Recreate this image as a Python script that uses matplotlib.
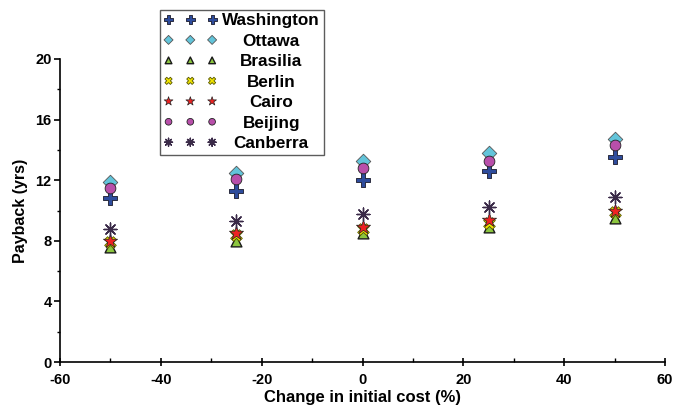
import matplotlib
matplotlib.use("Agg")
import matplotlib.pyplot as plt
from matplotlib.ticker import MultipleLocator

plt.rcParams['font.family'] = ['Liberation Sans', 'DejaVu Sans']
plt.rcParams['font.weight'] = 'bold'
plt.rcParams['axes.unicode_minus'] = False

# Change in initial cost (%)
cost_change = [-50, -25, 0, 25, 50]

# Payback period (years) per city
washington = [10.8, 11.3, 12.0, 12.6, 13.5]
ottawa = [11.9, 12.5, 13.3, 13.8, 14.7]
brasilia = [7.6, 8.0, 8.5, 8.9, 9.5]
berlin = [7.9, 8.4, 8.8, 9.2, 9.9]
cairo = [8.0, 8.5, 8.9, 9.35, 10.0]
beijing = [11.5, 12.05, 12.8, 13.3, 14.3]
canberra = [8.8, 9.3, 9.8, 10.2, 10.9]

series = [
    ("Washington", washington, dict(marker='P', s=105, facecolor='#2E4C9C', edgecolor='#1a1a2a', lw=0.6)),
    ("Ottawa", ottawa, dict(marker='D', s=55, facecolor='#62C4DA', edgecolor='#555555', lw=0.6)),
    ("Brasilia", brasilia, dict(marker='^', s=60, facecolor='#8CC63F', edgecolor='#1a1a1a', lw=1.0)),
    ("Berlin", berlin, dict(marker='X', s=70, facecolor='#F0E400', edgecolor='#555500', lw=0.6)),
    ("Cairo", cairo, dict(marker='*', s=115, facecolor='#EE2222', edgecolor='#222222', lw=0.5)),
    ("Beijing", beijing, dict(marker='o', s=60, facecolor='#B84FAA', edgecolor='#222222', lw=0.6)),
    ("Canberra", canberra, dict(marker=(8, 2, 0), s=85, facecolor='#3A2A48', edgecolor='#3A2A48', lw=1.0)),
]

fig = plt.figure(figsize=(6.76, 4.07), dpi=100)
ax = fig.add_axes([60 / 676, 45 / 407, 605 / 676, 303 / 407])

handles = []
for i, (name, vals, st) in enumerate(series):
    h = ax.scatter(cost_change, vals, marker=st['marker'], s=st['s'],
                   facecolor=st['facecolor'], edgecolor=st['edgecolor'],
                   linewidths=st['lw'], label=name, zorder=3 + i)
    handles.append(h)

ax.set_xlim(-60, 60)
ax.set_ylim(0, 20)
ax.xaxis.set_major_locator(MultipleLocator(20))
ax.xaxis.set_minor_locator(MultipleLocator(10))
ax.yaxis.set_major_locator(MultipleLocator(4))
ax.yaxis.set_minor_locator(MultipleLocator(2))

for side in ('top', 'right'):
    ax.spines[side].set_visible(False)
for side in ('left', 'bottom'):
    ax.spines[side].set_linewidth(1.2)

ax.tick_params(axis='x', which='major', direction='inout', length=6, width=1.2,
               labelsize=10.5, pad=5)
ax.tick_params(axis='x', which='minor', direction='in', length=3, width=1.0)
ax.tick_params(axis='y', which='major', direction='out', length=4, width=1.2,
               labelsize=10.5, pad=2)
ax.tick_params(axis='y', which='minor', direction='out', length=2.5, width=1.0)
for lbl in ax.get_xticklabels() + ax.get_yticklabels():
    lbl.set_fontweight('bold')

ax.set_xlabel("Change in initial cost (%)", fontsize=12, fontweight='bold', labelpad=2)
ax.set_ylabel("Payback (yrs)", fontsize=11.5, fontweight='bold', labelpad=5)

leg = ax.legend(handles=handles, scatterpoints=3, scatteryoffsets=[0.5],
                markerscale=0.62, loc='upper left',
                bbox_to_anchor=(160 / 676, 1 - 10 / 407),
                bbox_transform=fig.transFigure, frameon=True, fancybox=False,
                edgecolor='#333333', prop={'weight': 'bold', 'size': 12.3},
                handlelength=3.15, handletextpad=0.3, labelspacing=0.32,
                borderpad=0.2, borderaxespad=0)
leg.get_frame().set_linewidth(1.0)

# centre the legend labels within their column
fig.canvas.draw()
renderer = fig.canvas.get_renderer()
texts = leg.get_texts()
widths = [t.get_window_extent(renderer).width for t in texts]
wmax = max(widths)
for t, w in zip(texts, widths):
    t.set_position(((wmax - w) / 2.0, 0))

fig.savefig("out.png", dpi=100)
